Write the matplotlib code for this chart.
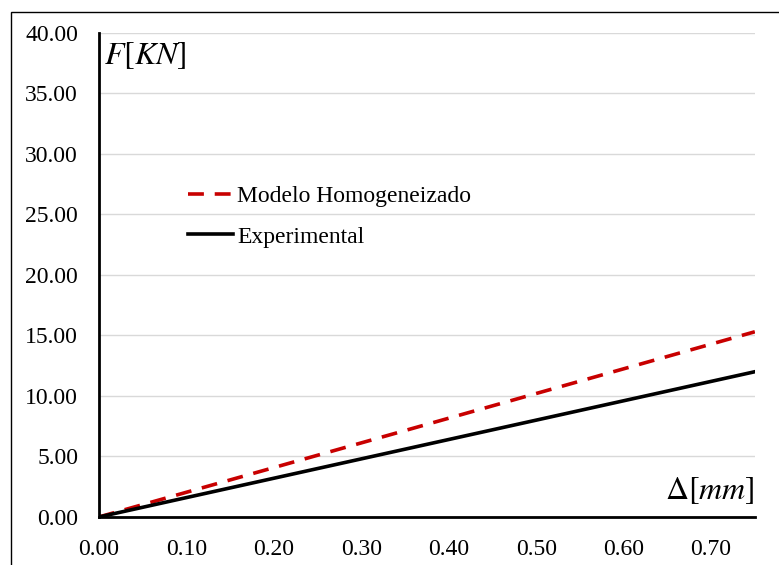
import matplotlib.pyplot as plt
from matplotlib.patches import Rectangle

plt.rcParams['font.family'] = ['Liberation Serif', 'DejaVu Serif']
plt.rcParams['mathtext.fontset'] = 'stix'

# displacement [mm]
delta = [0.00, 0.10, 0.20, 0.30, 0.40, 0.50, 0.60, 0.70, 0.75]
# force [KN]
f_modelo = [0.00, 2.04, 4.08, 6.12, 8.16, 10.20, 12.24, 14.28, 15.30]
f_exp = [0.00, 1.60, 3.20, 4.80, 6.40, 8.00, 9.60, 11.20, 12.00]

x_ticks = [0.0, 0.1, 0.2, 0.3, 0.4, 0.5, 0.6, 0.7]
y_ticks = [0, 5, 10, 15, 20, 25, 30, 35, 40]

fig = plt.figure(figsize=(7.79, 5.65), dpi=100)
ax = fig.add_axes([0.127, 0.085, 0.842, 0.857])

# outer chart frame (cut at right/bottom like the screenshot)
fig.patches.append(Rectangle((11/779, -0.1), 1.2, 1 - 12/565 + 0.1,
                             transform=fig.transFigure, fill=False,
                             ec='black', lw=1.0))

ax.plot(delta, f_modelo, color='#c80000', lw=2.6, dashes=(4.4, 3.0),
        label='Modelo Homogeneizado')
ax.plot(delta, f_exp, color='black', lw=2.6, label='Experimental')

ax.set_xlim(0, 0.75)
ax.set_ylim(0, 40)
ax.set_xticks(x_ticks)
ax.set_yticks(y_ticks)
ax.set_xticklabels([f'{v:.2f}' for v in x_ticks])
ax.set_yticklabels([f'{v:.2f}' for v in y_ticks])
ax.tick_params(length=0, labelsize=17)
ax.tick_params(axis='x', pad=16)
ax.tick_params(axis='y', pad=15)

ax.grid(axis='y', color='#d9d9d9', lw=1.0)
ax.set_axisbelow(True)
for s in ['top', 'right']:
    ax.spines[s].set_visible(False)
for s in ['left', 'bottom']:
    ax.spines[s].set_linewidth(2.0)

ax.text(0.008, 0.985, r'$F[KN]$', transform=ax.transAxes,
        fontsize=23, ha='left', va='top')
ax.text(1.0, 0.022, r'$\Delta[mm]$', transform=ax.transAxes,
        fontsize=23, ha='right', va='bottom')

ax.legend(loc='upper left', bbox_to_anchor=(0.136, 0.685), frameon=False,
          fontsize=17, handlelength=1.9, handletextpad=0.17,
          labelspacing=0.82, borderpad=0, borderaxespad=0)

fig.savefig('out.png', dpi=100)
